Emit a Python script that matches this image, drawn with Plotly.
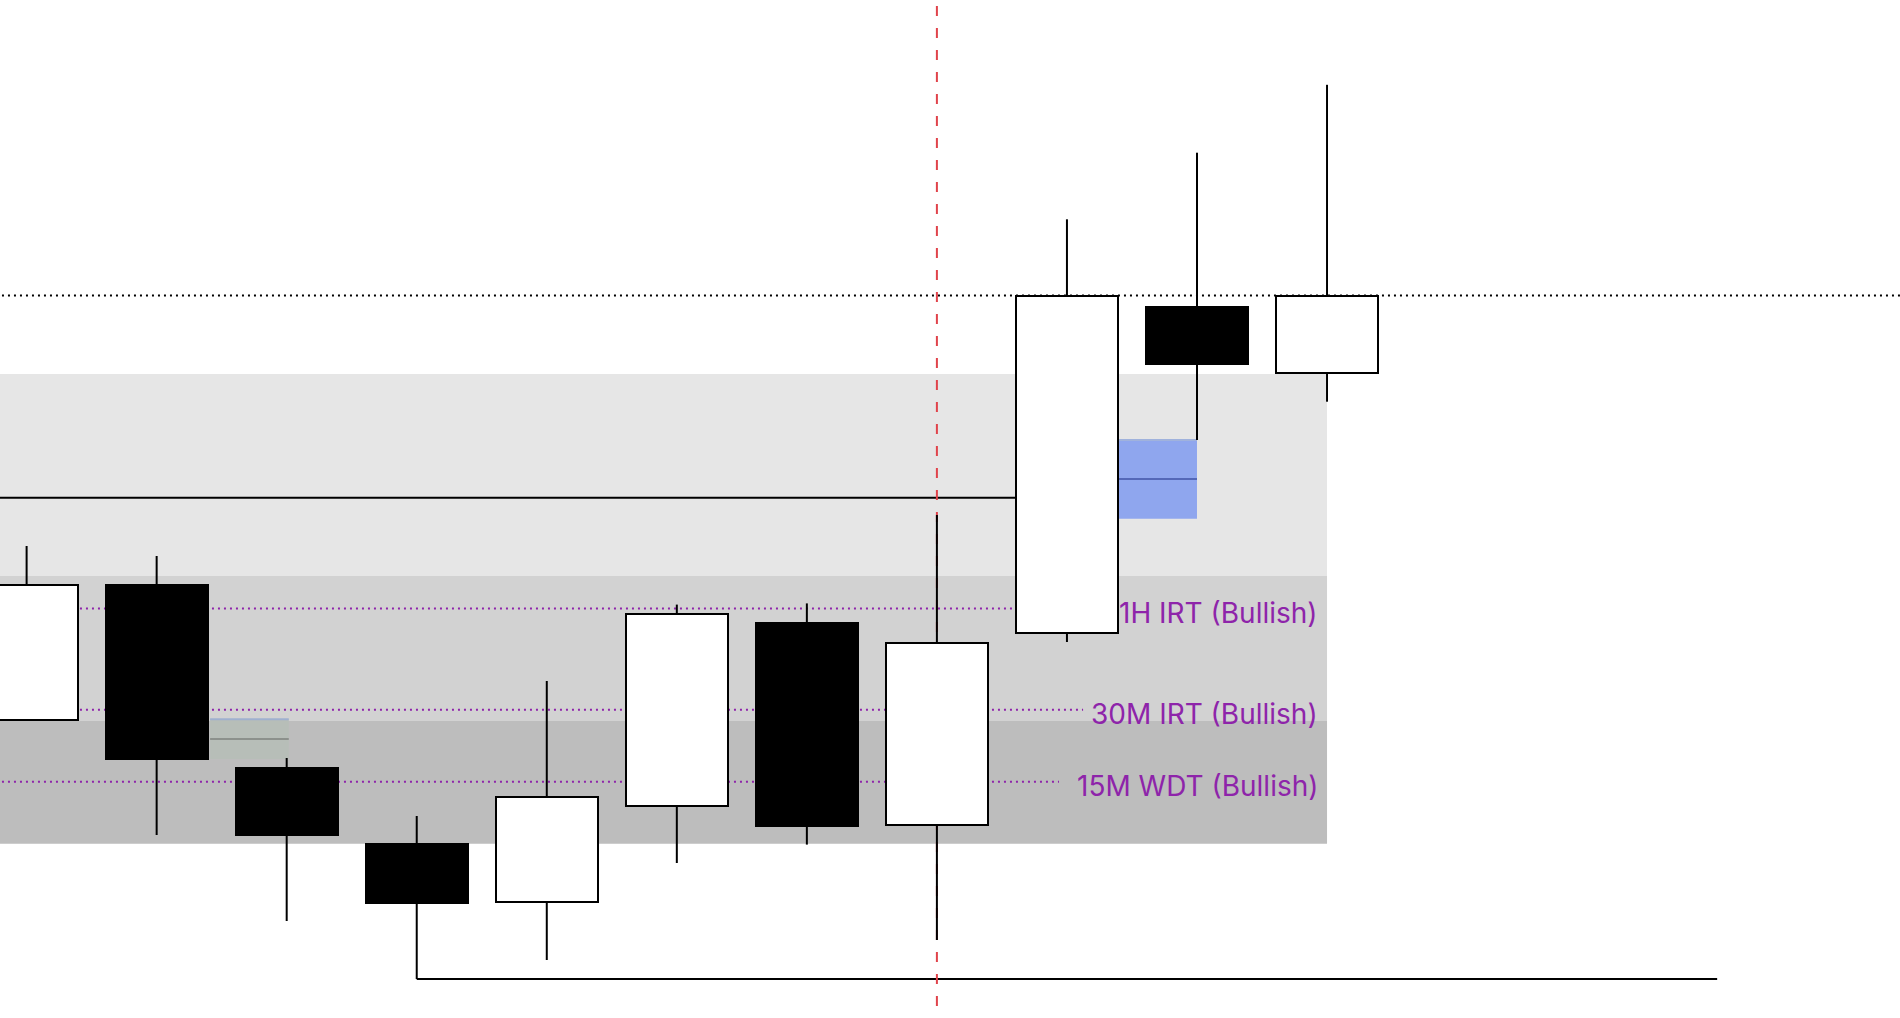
import plotly.graph_objects as go

# ---- data (price units) ----
idx    = [0, 1, 2, 3, 4, 5, 6, 7, 8, 9, 10]
opens  = [298.0, 433.0, 250.0, 174.0, 116.3, 212.0, 395.0, 193.0, 385.5, 711.4, 645.5]
highs  = [472.0, 462.0, 260.0, 202.0, 337.0, 413.4, 414.6, 503.0, 798.7, 865.3, 933.2]
lows   = [298.0, 183.0, 97.0, 39.0, 58.0, 155.0, 173.4, 78.0, 376.0, 578.0, 616.3]
closes = [433.0, 259.5, 183.0, 115.3, 221.0, 404.0, 192.0, 374.6, 722.3, 654.5, 721.8]

zone_light = (442.0, 644.0)
zone_mid = (297.0, 442.0)
zone_dark = (174.3, 297.0)
zone_end = 10

level_names = ["1H IRT (Bullish)", "30M IRT (Bullish)", "15M WDT (Bullish)"]
level_values = [409.5, 308.3, 236.3]
level_line_end = [8.3, 8.124, 7.939]

top_dotted = 722.5
black_level = 520.3
black_level_end = 8
bottom_level = 39.0
bottom_level_span = (3, 13.0)
marker_idx = 7

blue_box = dict(x0=8.393, x1=9.0, y0=499.3, y1=578.0, mid=539.0)
grey_box = dict(x0=1.411, x1=2.016, y0=259.0, y1=298.7, mid=279.0)

body_width = 0.785
x_range = [-0.2046, 14.406]
y_range = [0, 1018]

PURPLE = "#8e24aa"

fig = go.Figure()

# wicks (split so they don't cross the bodies)
wx, wy = [], []
for i, o, h, l, c in zip(idx, opens, highs, lows, closes):
    top, bot = max(o, c), min(o, c)
    if h > top:
        wx += [i, i, None]; wy += [top, h, None]
    if l < bot:
        wx += [i, i, None]; wy += [l, bot, None]
fig.add_trace(go.Scatter(x=wx, y=wy, mode="lines", line=dict(color="black", width=2),
                         hoverinfo="skip", showlegend=False))

# bodies
bases = [min(o, c) for o, c in zip(opens, closes)]
heights = [abs(c - o) for o, c in zip(opens, closes)]
fills = ["white" if c >= o else "black" for o, c in zip(opens, closes)]
fig.add_trace(go.Bar(x=idx, y=heights, base=bases, width=body_width,
                     marker=dict(color=fills, line=dict(color="black", width=2)),
                     hoverinfo="skip", showlegend=False))

shapes = []
x_left = x_range[0] - 1
for (y0, y1), col in [(zone_light, "#e6e6e6"), (zone_mid, "#d2d2d2"), (zone_dark, "#bdbdbd")]:
    shapes.append(dict(type="rect", xref="x", yref="y", x0=x_left, x1=zone_end, y0=y0, y1=y1,
                       fillcolor=col, line=dict(width=0), layer="below"))

# grey small box
shapes.append(dict(type="rect", xref="x", yref="y", x0=grey_box["x0"], x1=grey_box["x1"],
                   y0=grey_box["y0"], y1=grey_box["y1"], fillcolor="#b7beb8",
                   line=dict(width=0), layer="below"))
shapes.append(dict(type="line", xref="x", yref="y", x0=grey_box["x0"], x1=grey_box["x1"],
                   y0=grey_box["y1"], y1=grey_box["y1"], line=dict(color="#9fb0cf", width=2), layer="below"))
shapes.append(dict(type="line", xref="x", yref="y", x0=grey_box["x0"], x1=grey_box["x1"],
                   y0=grey_box["mid"], y1=grey_box["mid"], line=dict(color="#8c918c", width=2), layer="below"))

# blue box
shapes.append(dict(type="rect", xref="x", yref="y", x0=blue_box["x0"], x1=blue_box["x1"],
                   y0=blue_box["y0"], y1=blue_box["y1"], fillcolor="#8fa6ee",
                   line=dict(width=0), layer="below"))
shapes.append(dict(type="line", xref="x", yref="y", x0=blue_box["x0"], x1=blue_box["x1"],
                   y0=blue_box["y1"], y1=blue_box["y1"], line=dict(color="#a0b2dc", width=2), layer="below"))
shapes.append(dict(type="line", xref="x", yref="y", x0=blue_box["x0"], x1=blue_box["x1"],
                   y0=blue_box["mid"], y1=blue_box["mid"], line=dict(color="#5468b8", width=2), layer="below"))

# purple level lines
for v, xe in zip(level_values, level_line_end):
    shapes.append(dict(type="line", xref="x", yref="y", x0=x_left, x1=xe, y0=v, y1=v,
                       line=dict(color=PURPLE, width=2, dash="2px,4px"), layer="below"))

# black lines
shapes.append(dict(type="line", xref="x", yref="y", x0=x_left, x1=black_level_end,
                   y0=black_level, y1=black_level, line=dict(color="black", width=2), layer="below"))
shapes.append(dict(type="line", xref="x", yref="y", x0=bottom_level_span[0], x1=bottom_level_span[1],
                   y0=bottom_level, y1=bottom_level, line=dict(color="black", width=2), layer="below"))
shapes.append(dict(type="line", xref="x", yref="y", x0=x_left, x1=x_range[1] + 1,
                   y0=top_dotted, y1=top_dotted, line=dict(color="black", width=2, dash="2px,4px"), layer="below"))

# red vertical dashed (axis-referenced so it sits above the zones, below the candles)
shapes.append(dict(type="line", xref="x", yref="y", x0=marker_idx, x1=marker_idx,
                   y0=y_range[1] - 6, y1=y_range[0] - 20,
                   line=dict(color="#e0434b", width=2, dash="10px,12px"), layer="below"))

annotations = []
for name, v in zip(level_names, level_values):
    annotations.append(dict(x=9.945, y=v, xref="x", yref="y", text=name, showarrow=False,
                            xanchor="right", yanchor="middle", yshift=-4,
                            font=dict(family="Inter, Roboto, sans-serif", size=28, color=PURPLE)))

fig.update_layout(
    width=1900, height=1018,
    margin=dict(l=0, r=0, t=0, b=0),
    paper_bgcolor="white", plot_bgcolor="white",
    xaxis=dict(range=x_range, visible=False, showgrid=False, zeroline=False),
    yaxis=dict(range=y_range, visible=False, showgrid=False, zeroline=False),
    shapes=shapes, annotations=annotations, bargap=0, showlegend=False,
)

fig.write_html("out.html", config={"displayModeBar": False},
               post_script="document.body.style.margin='0';")
